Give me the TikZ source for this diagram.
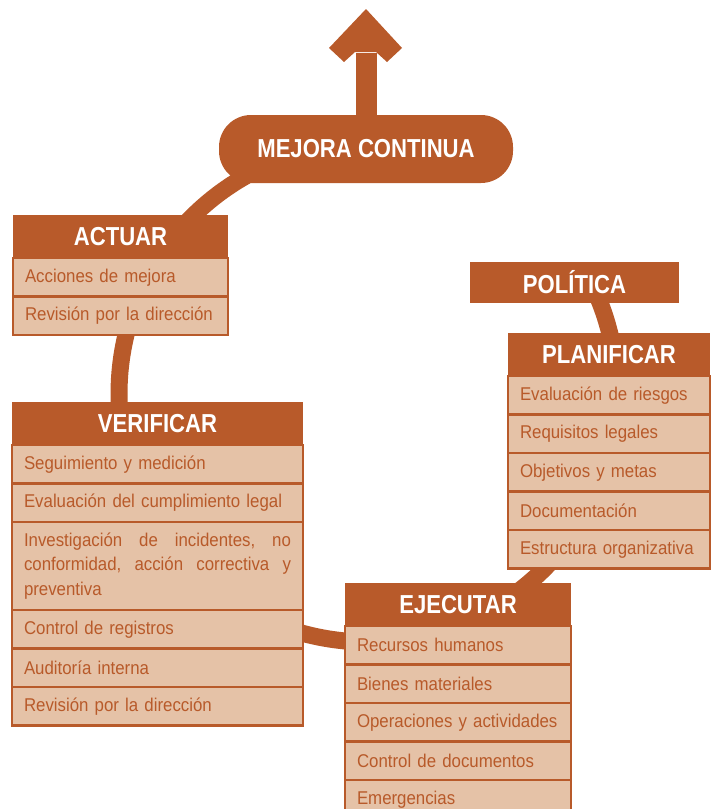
\documentclass[tikz,border=0pt]{standalone}
\usepackage{fontspec}
\newfontfamily\headfont[FakeStretch=0.85]{Liberation Sans}
\newfontfamily\itemfont[FakeStretch=0.91]{Liberation Sans}
\usetikzlibrary{positioning,backgrounds}
\definecolor{naranja}{RGB}{184,90,42}
\definecolor{crema}{RGB}{229,194,167}

\begin{document}
\begin{tikzpicture}[x=1pt,y=1pt,
  head/.style={fill=naranja, text=white, font={\headfont\bfseries\fontsize{26}{30}\selectfont},
    minimum height=43pt, inner sep=0pt, outer sep=0pt},
  item/.style={fill=crema, draw=naranja, line width=2.5pt, text=naranja,
    font={\itemfont\fontsize{18.5}{24.5}\selectfont}, minimum height=38.5pt,
    inner xsep=12pt, inner ysep=0pt, outer sep=0pt, align=left},
  lazo/.style={draw=naranja, line width=17pt, looseness=0.86}]

\useasboundingbox (0,0) rectangle (712,-809);
\clip (0,0) rectangle (712,-809);

\node[head, minimum width=294pt, minimum height=68pt, rounded corners=32pt] (mejora) at (366,-149) {MEJORA CONTINUA};
\coordinate (tip) at (366,-9);

\node[head, minimum width=215pt, anchor=north west] (actuar) at (13,-215) {ACTUAR};
\node[item, text width=191pt, below=0pt of actuar] (actuar1) {Acciones de mejora};
\node[item, text width=191pt, below=0pt of actuar1] (actuar2) {Revisión por la dirección};

\node[head, minimum width=291pt, anchor=north west] (verificar) at (12,-402) {VERIFICAR};
\node[item, text width=267pt, below=0pt of verificar] (verificar1) {Seguimiento y medición};
\node[item, text width=267pt, below=0pt of verificar1] (verificar2) {Evaluación del cumplimiento legal};
\node[item, text width=267pt, minimum height=88pt, below=0pt of verificar2] (verificar3)
  {\makebox[267pt][s]{Investigación\hfill de\hfill incidentes,\hfill no}\\
   \makebox[267pt][s]{conformidad,\hfill acción\hfill correctiva\hfill y}\\
   preventiva};
\node[item, text width=267pt, below=0pt of verificar3] (verificar4) {Control de registros};
\node[item, text width=267pt, below=0pt of verificar4] (verificar5) {Auditoría interna};
\node[item, text width=267pt, below=0pt of verificar5] (verificar6) {Revisión por la dirección};

\node[head, minimum width=226pt, anchor=north west] (ejecutar) at (345,-583) {EJECUTAR};
\node[item, text width=202pt, below=0pt of ejecutar] (ejecutar1) {Recursos humanos};
\node[item, text width=202pt, below=0pt of ejecutar1] (ejecutar2) {Bienes materiales};
\node[item, text width=202pt, below=0pt of ejecutar2] (ejecutar3) {Operaciones y actividades};
\node[item, text width=202pt, below=0pt of ejecutar3] (ejecutar4) {Control de documentos};
\node[item, text width=202pt, below=0pt of ejecutar4] (ejecutar5) {Emergencias};

\node[head, minimum width=209pt, minimum height=41pt, anchor=north west] (politica) at (470,-262) {POLÍTICA};

\node[head, minimum width=202pt, anchor=north west] (planificar) at (508,-333) {PLANIFICAR};
\node[item, text width=178pt, below=0pt of planificar] (planificar1) {Evaluación de riesgos};
\node[item, text width=178pt, below=0pt of planificar1] (planificar2) {Requisitos legales};
\node[item, text width=178pt, below=0pt of planificar2] (planificar3) {Objetivos y metas};
\node[item, text width=178pt, below=0pt of planificar3] (planificar4) {Documentación};
\node[item, text width=178pt, below=0pt of planificar4] (planificar5) {Estructura organizativa};

\begin{pgfonlayer}{background}
\draw[naranja, line width=21pt] (mejora) -- ([yshift=-44]tip);
\fill[naranja] (tip) -- ++(36,-39) -- ++(-15,-14) -- ++(-11,10) -- ++(-21,0) -- ++(-11,-10) -- ++(-15,14) -- cycle;
\draw[lazo] ([shift={(51.7,-48.8)}]mejora.north west) to[out=203,in=50] ([shift={(164.3,-17.9)}]actuar.north west);
\draw[lazo] ([shift={(121,-11.8)}]actuar2.north west) to[out=250,in=98] ([shift={(109.4,-25.7)}]verificar.north west);
\draw[lazo] ([shift={(270.8,-17)}]verificar4.north west) to[out=340,in=185] ([shift={(44.7,-15.1)}]ejecutar1.north west);
\draw[lazo] ([shift={(147.5,-25.6)}]ejecutar.north west) to[out=30,in=245] ([shift={(85.7,-7.2)}]planificar4.north west);
\draw[lazo] ([shift={(119.9,-18)}]politica.north west) to[out=297,in=98] ([shift={(106.6,-25.3)}]planificar.north west);
\end{pgfonlayer}

\end{tikzpicture}
\end{document}
